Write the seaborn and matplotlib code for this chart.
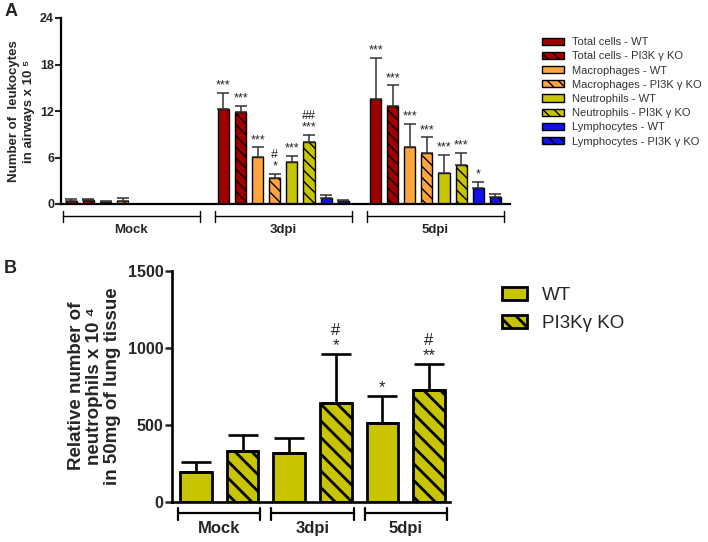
import pandas as pd
import matplotlib.pyplot as plt
from matplotlib.patches import Patch
import seaborn as sns

# ---------------- data, panel A (leukocytes in airways, x 10^5) ----------------
groups_a = ["Mock", "3dpi", "5dpi"]
series_a = ["Total cells - WT", "Total cells - PI3K γ KO",
            "Macrophages - WT", "Macrophages - PI3K γ KO",
            "Neutrophils - WT", "Neutrophils - PI3K γ KO",
            "Lymphocytes - WT", "Lymphocytes - PI3K γ KO"]
total_wt = [0.45, 12.3, 13.5]
total_ko = [0.5, 11.9, 12.6]
mac_wt = [0.3, 6.1, 7.4]
mac_ko = [0.4, 3.4, 6.6]
neu_wt = [0.0, 5.4, 4.0]
neu_ko = [0.0, 8.0, 5.0]
lym_wt = [0.0, 0.75, 2.05]
lym_ko = [0.0, 0.4, 0.9]
total_wt_err = [0.2, 2.0, 5.4]
total_ko_err = [0.2, 0.8, 2.7]
mac_wt_err = [0.15, 1.2, 2.9]
mac_ko_err = [0.4, 0.45, 2.0]
neu_wt_err = [0.0, 0.8, 2.3]
neu_ko_err = [0.0, 0.9, 1.6]
lym_wt_err = [0.0, 0.4, 0.85]
lym_ko_err = [0.0, 0.06, 0.45]
sig_a = [["", "***", "***"], ["", "***", "***"],
         ["", "***", "***"], ["", "#\n*", "***"],
         ["", "***", "***"], ["", "##\n***", "***"],
         ["", "", "*"], ["", "", ""]]
colors_a = ["#A00000", "#A00000", "#FFA53F", "#FFA53F",
            "#C8C400", "#C8C400", "#1010F0", "#1010F0"]

# ---------------- data, panel B (lung neutrophils) ----------------
groups_b = ["Mock", "3dpi", "5dpi"]
series_b = ["WT", "PI3Kγ KO"]
wt_b = [190, 318, 509]
ko_b = [331, 643, 725]
wt_b_err = [66, 94, 177]
ko_b_err = [102, 314, 169]
sig_b = [["", "", "*"], ["", "#\n*", "#\n**"]]
colors_b = ["#C8C400", "#C8C400"]

values_a = [total_wt, total_ko, mac_wt, mac_ko, neu_wt, neu_ko, lym_wt, lym_ko]
errors_a = [total_wt_err, total_ko_err, mac_wt_err, mac_ko_err,
            neu_wt_err, neu_ko_err, lym_wt_err, lym_ko_err]
df_a = pd.DataFrame([(g, s, v[i]) for s, v in zip(series_a, values_a)
                     for i, g in enumerate(groups_a)],
                    columns=["group", "series", "value"])
df_b = pd.DataFrame([(g, s, v[i]) for s, v in zip(series_b, [wt_b, ko_b])
                     for i, g in enumerate(groups_b)],
                    columns=["group", "series", "value"])

sns.set_style("ticks")
plt.rcParams["font.family"] = ["Liberation Sans", "DejaVu Sans"]

fig = plt.figure(figsize=(7.08, 5.42), dpi=100)
axA = fig.add_axes([61 / 708, 1 - 204 / 542, 449 / 708, 186 / 542])
axB = fig.add_axes([172 / 708, 1 - 501.7 / 542, 278 / 708, 231 / 542])


def draw_panel(ax, df, groups, series, colors, errors, sigs, width, gap,
               edge_lw, hatch, hatch_lw, err_kw, sig_size):
    plt.rcParams["hatch.linewidth"] = hatch_lw
    sns.barplot(data=df, x="group", y="value", hue="series", order=groups,
                hue_order=series, palette=colors, saturation=1, width=width,
                gap=gap, edgecolor="black", linewidth=edge_lw, errorbar=None,
                legend=False, ax=ax)
    bar_conts = list(ax.containers)
    for k, cont in enumerate(bar_conts):
        xs, tops, errs = [], [], []
        for j, p in enumerate(cont.patches):
            if "KO" in series[k]:
                p.set_hatch(hatch)
            x = p.get_x() + p.get_width() / 2
            top = p.get_height()
            if errors[k][j] > 0:
                xs.append(x)
                tops.append(top)
                errs.append(errors[k][j])
            if sigs[k][j]:
                ax.annotate(sigs[k][j], xy=(x, top + errors[k][j]),
                            xytext=(0, 1), textcoords="offset points",
                            ha="center", va="bottom", fontsize=sig_size,
                            color="#222222", linespacing=1.0)
        if xs:
            ax.errorbar(xs, tops, yerr=[[0] * len(errs), errs], fmt="none",
                        zorder=1, **err_kw)


# ---------------- panel A ----------------
draw_panel(axA, df_a, groups_a, series_a, colors_a, errors_a, sig_a,
           width=0.9, gap=0.35, edge_lw=1.0, hatch="\\\\\\", hatch_lw=1.0,
           err_kw=dict(ecolor="#333333", elinewidth=1.1, capsize=4.5, capthick=1.1),
           sig_size=9)
axA.set_ylim(0, 24)
axA.set_yticks([0, 6, 12, 18, 24])
axA.set_xlim(-0.462, 2.49)
axA.set_xticks([])
axA.set_xlabel("")
axA.set_ylabel("Number of  leukocytes\nin airways x 10 ⁵", fontsize=9.5,
               fontweight="bold", linespacing=1.35)
axA.yaxis.set_label_coords(-0.058, 0.5)
axA.tick_params(axis="y", direction="out", length=4, width=1.5, labelsize=9, pad=1)
for lab in axA.get_yticklabels():
    lab.set_fontweight("bold")
sns.despine(ax=axA)
for sp in ["left", "bottom"]:
    axA.spines[sp].set_linewidth(1.6)
    axA.spines[sp].set_color("black")

# group brackets below x axis
trA = axA.get_xaxis_transform()
for g, name in enumerate(groups_a):
    x0, x1 = g - 0.45, g + 0.45
    axA.plot([x0, x1], [-0.065, -0.065], color="black", lw=1.0,
             transform=trA, clip_on=False)
    for xe in (x0, x1):
        axA.plot([xe, xe], [-0.035, -0.095], color="black", lw=1.0,
                 transform=trA, clip_on=False)
    axA.text(g, -0.11, name, transform=trA, ha="center", va="top",
             fontsize=9.5, fontweight="bold")

handles_a = [Patch(facecolor=c, edgecolor="black", linewidth=1.0,
                   hatch="\\\\\\" if "KO" in s else None)
             for s, c in zip(series_a, colors_a)]
fig.legend(handles_a, series_a, loc="upper left", bbox_to_anchor=(0.752, 0.95),
           frameon=False, fontsize=8, handlelength=1.9, handleheight=0.62,
           labelspacing=0.38, handletextpad=0.8, labelcolor="#333333")

# ---------------- panel B ----------------
draw_panel(axB, df_b, groups_b, series_b, colors_b, [wt_b_err, ko_b_err], sig_b,
           width=1.0, gap=0.32, edge_lw=2.0, hatch="\\\\", hatch_lw=2.0,
           err_kw=dict(ecolor="black", elinewidth=1.9, capsize=11, capthick=1.9),
           sig_size=12)
axB.set_ylim(0, 1500)
axB.set_yticks([0, 500, 1000, 1500])
axB.set_xlim(-0.507, 2.475)
axB.set_xticks([])
axB.set_xlabel("")
axB.set_ylabel("Relative number of\nneutrophils x 10 ⁴\nin 50mg of lung tissue",
               fontsize=13.5, fontweight="bold", linespacing=1.08)
axB.yaxis.set_label_coords(-0.182, 0.5)
axB.tick_params(axis="y", direction="out", length=5, width=1.8, labelsize=11.5, pad=1)
for lab in axB.get_yticklabels():
    lab.set_fontweight("bold")
sns.despine(ax=axB)
for sp in ["left", "bottom"]:
    axB.spines[sp].set_linewidth(1.9)
    axB.spines[sp].set_color("black")

trB = axB.get_xaxis_transform()
for g, name in enumerate(groups_b):
    x0, x1 = g - 0.44, g + 0.44
    axB.plot([x0, x1], [-0.05, -0.05], color="black", lw=1.6,
             transform=trB, clip_on=False)
    for xe in (x0, x1):
        axB.plot([xe, xe], [-0.027, -0.078], color="black", lw=1.6,
                 transform=trB, clip_on=False)
    axB.text(g, -0.085, name, transform=trB, ha="center", va="top",
             fontsize=12, fontweight="bold")

handles_b = [Patch(facecolor=c, edgecolor="black", linewidth=2.0,
                   hatch="\\\\" if "KO" in s else None)
             for s, c in zip(series_b, colors_b)]
fig.legend(handles_b, series_b, loc="upper left", bbox_to_anchor=(0.685, 0.502),
           frameon=False, fontsize=13.5, handlelength=1.35, handleheight=0.7,
           labelspacing=0.6, handletextpad=0.8)

fig.text(0.006, 0.995, "A", fontsize=13, fontweight="bold", va="top")
fig.text(0.006, 0.52, "B", fontsize=13, fontweight="bold", va="top")

fig.savefig("out.png", dpi=100)
